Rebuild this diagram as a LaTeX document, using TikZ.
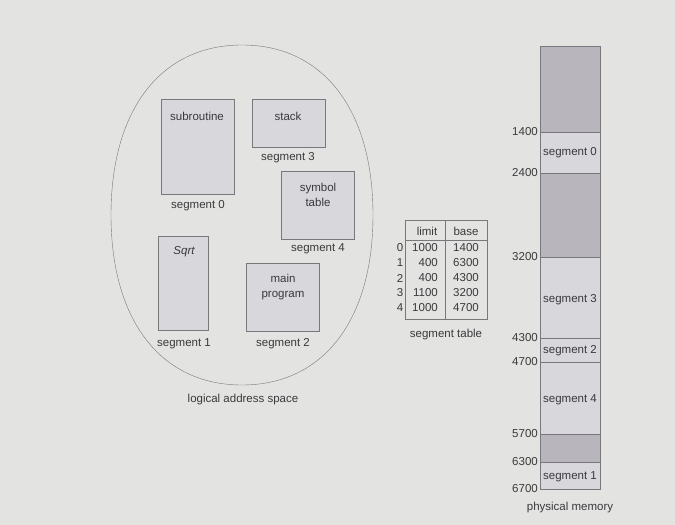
\documentclass[tikz,border=0pt]{standalone}
\usepackage{fontspec}
\setmainfont{Liberation Sans}
\usetikzlibrary{calc}

\definecolor{bg}{RGB}{227,227,226}
\definecolor{segfill}{RGB}{215,215,220}
\definecolor{holefill}{RGB}{184,181,189}
\definecolor{edge}{RGB}{120,120,124}
\definecolor{txt}{RGB}{58,58,60}

\begin{document}
\begin{tikzpicture}[x=1pt, y=-1pt, text=txt,
    font=\fontsize{11.5}{15}\selectfont,
    segbox/.style={draw=edge, fill=segfill, anchor=north west, inner sep=0pt},
    lbl/.style={inner sep=0pt, align=center}]

  % Parameters
  \def\memL{540}    % memory left edge
  \def\memR{600}    % memory right edge
  \def\rowA{248}    % first table row
  \def\rowD{15}     % table row step
  \def\rx{131}      % logical space half width
  \def\ry{170}      % logical space half height
  \def\ek{0.62}     % squareness of the outline

  % Page (background)
  \useasboundingbox[fill=bg] (0,0) rectangle (675,525);

  % Logical address space (outline, a bit squarer than an ellipse)
  \coordinate (lc) at (242,215);
  \draw[edge]
    ($(lc)+(\rx,0)$)
      .. controls ($(lc)+(\rx,{-\ek*\ry})$) and ($(lc)+({\ek*\rx},-\ry)$) .. ($(lc)+(0,-\ry)$)
      .. controls ($(lc)+({-\ek*\rx},-\ry)$) and ($(lc)+(-\rx,{-\ek*\ry})$) .. ($(lc)+(-\rx,0)$)
      .. controls ($(lc)+(-\rx,{\ek*\ry})$) and ($(lc)+({-\ek*\rx},\ry)$) .. ($(lc)+(0,\ry)$)
      .. controls ($(lc)+({\ek*\rx},\ry)$) and ($(lc)+(\rx,{\ek*\ry})$) .. cycle;

  % Segments in logical space
  \node[segbox, minimum width=73, minimum height=95] (sub)  at (161,99)  {};
  \node[segbox, minimum width=73, minimum height=48] (stk)  at (252,99)  {};
  \node[segbox, minimum width=73, minimum height=68] (sym)  at (281,171) {};
  \node[segbox, minimum width=50, minimum height=94] (sqrt) at (158,236) {};
  \node[segbox, minimum width=73, minimum height=68] (mainp) at (246,263) {};

  \node[lbl] (tsub)  at (197,116) {subroutine};
  \node[lbl] (tstk)  at (288,116) {stack};
  \node[lbl] (tsym)  at (318,195) {symbol\\table};
  \node[lbl] (tsqrt) at (184,252) {\itshape Sqrt};
  \node[lbl] (tmain) at (283,287) {main\\program};

  \node[lbl] (lseg0) at (198,206) {segment 0};
  \node[lbl] (lseg3) at (288,158) {segment 3};
  \node[lbl] (lseg4) at (318,249) {segment 4};
  \node[lbl] (lseg1) at (184,344) {segment 1};
  \node[lbl] (lseg2) at (283,344) {segment 2};
  \node[lbl] (logcap) at (243,400) {logical address space};

  % Segment table
  \draw[edge] (405,220) rectangle (487,319);
  \draw[edge] (405,240) -- (487,240);
  \draw[edge] (445,220) -- (445,319);
  \node[lbl] (hlimit) at (427,231) {limit};
  \node[lbl] (hbase)  at (466,231) {base};
  \foreach \i/\lim/\bas in {0/1000/1400, 1/400/6300, 2/400/4300, 3/1100/3200, 4/1000/4700} {
    \node[lbl] (idx\i) at (400,{\rowA+\rowD*\i}) {\i};
    \node[lbl, anchor=east] (lim\i) at (438,{\rowA+\rowD*\i}) {\lim};
    \node[lbl, anchor=east] (bas\i) at (479,{\rowA+\rowD*\i}) {\bas};
  }
  \node[lbl] (tabcap) at (446,335) {segment table};

  % Physical memory: bands top/bottom/fill
  \foreach \ytop/\ybot/\col in {46/132/holefill, 132/173/segfill, 173/257/holefill,
      257/338/segfill, 338/362/segfill, 362/434/segfill, 434/462/holefill, 462/489/segfill}
    \draw[edge, fill=\col] (\memL,\ytop) rectangle (\memR,\ybot);

  % Addresses at the band edges
  \foreach \y/\a in {132/1400, 173/2400, 257/3200, 338/4300, 362/4700,
      434/5700, 462/6300, 489/6700}
    \node[lbl, anchor=east] (addr\a) at (538,\y) {\a};

  % Segments in memory
  \foreach \y/\k in {153/0, 300/3, 351/2, 400/4, 477/1}
    \node[lbl] (mseg\k) at ({(\memL+\memR)/2},\y) {segment \k};
  \node[lbl] (memcap) at (570,508) {physical memory};

\end{tikzpicture}
\end{document}
